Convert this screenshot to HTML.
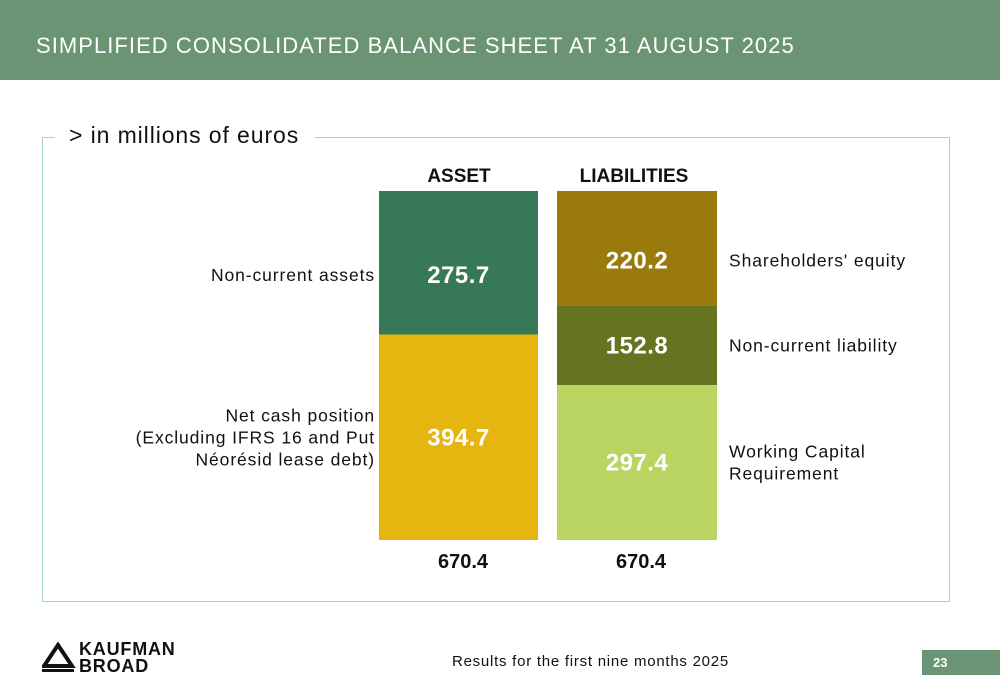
<!DOCTYPE html>
<html><head><meta charset="utf-8"><style>
body{margin:0;width:1000px;height:685px;background:#fff;position:relative;font-family:"Liberation Sans",sans-serif;overflow:hidden}
.a{position:absolute}
</style></head><body>
<div class="a" style="left:0;top:0;width:1000px;height:80px;background:#6a9474"></div>
<div class="a" style="left:36px;top:33px;color:#fff;font-size:22px;letter-spacing:1.05px">SIMPLIFIED CONSOLIDATED BALANCE SHEET AT 31 AUGUST 2025</div>
<div class="a" style="left:42px;top:137px;width:906px;height:463px;border:1px solid #a8d2d0"></div>
<div class="a" style="left:55px;top:122px;background:#fff;padding:0 16px 0 14px;font-size:23px;letter-spacing:0.9px;color:#111">&gt; in millions of euros</div>
<svg class="a" id="chart" style="left:0;top:0" width="1000" height="685"></svg>
<div class="a" style="left:42px;top:642px;width:140px;height:34px">
<svg width="36" height="32" style="position:absolute;left:0;top:0"><polygon points="16,3 30,24 2,24" fill="none" stroke="#111" stroke-width="4"/><rect x="0" y="27" width="32" height="3" fill="#111"/></svg>
<div style="position:absolute;left:37px;top:-1px;font-weight:bold;font-size:18px;line-height:17px;letter-spacing:0.8px;color:#111">KAUFMAN<br>BROAD</div></div>
<div class="a" style="left:452px;top:653px;font-size:15px;letter-spacing:0.75px;color:#111">Results for the first nine months 2025</div>
<div class="a" style="left:922px;top:650px;width:78px;height:25px;background:#6a9474;color:#fff;font-weight:bold;font-size:13px;line-height:25px;padding-left:11px;box-sizing:border-box">23</div>
<script>
const columns=["ASSET","LIABILITIES"];
const assetValues=[275.7,394.7];
const assetLabels=["Non-current assets","Net cash position\n(Excluding IFRS 16 and Put\nNéorésid lease debt)"];
const liabValues=[220.2,152.8,297.4];
const liabLabels=["Shareholders' equity","Non-current liability","Working Capital\nRequirement"];
const totals=[670.4,670.4];
const assetColors=["#377856","#e6b610"];
const liabColors=["#9b7a0c","#647420","#bad462"];
const NS="http://www.w3.org/2000/svg",svg=document.getElementById('chart');
const top0=191,bot0=540,maxT=Math.max(...totals);
const y=v=>top0+(v/maxT)*(bot0-top0);
function mk(t,a){const e=document.createElementNS(NS,t);for(const k in a)e.setAttribute(k,a[k]);svg.appendChild(e);return e;}
function txt(x,yy,s,anchor,size,bold,fill,ls){const lines=s.split("\n");const e=mk("text",{x:x,y:yy-(lines.length-1)*11,"text-anchor":anchor,"font-size":size,"font-weight":bold?"bold":"normal",fill:fill,"letter-spacing":ls||0,"font-family":"Liberation Sans, sans-serif"});lines.forEach((l,i)=>{const t=document.createElementNS(NS,"tspan");t.setAttribute("x",x);t.setAttribute("dy",i?22:0);t.textContent=l;e.appendChild(t);});return e;}
function stack(x0,w,vals,cols,labs,side,col){let c=0;vals.forEach((v,i)=>{const ya=y(c),yb=y(c+v);c+=v;
 const r=mk("rect",{x:x0,y:ya,width:w,height:yb-ya,fill:cols[i]});
 
 
 let m=(ya+yb)/2;
 if(i===0) m+=12;
 const vt=txt(x0+w/2,m+8,v.toFixed(1),"middle",24,true,"#fff",0.5);
 
 
 const lt=side<0?txt(x0-4,m+6,labs[i],"end",17.5,false,"#111",0.9):txt(x0+w+12,m+6,labs[i],"start",17.5,false,"#111",0.9);
 
 
});}
stack(379,159,assetValues,assetColors,assetLabels,-1,'asset');
stack(557,160,liabValues,liabColors,liabLabels,1,'liability');
[[459,columns[0]],[637,columns[1]]].forEach((p,i)=>{
 const h=txt(p[0]-(i?3:0),182,p[1],"middle",19,true,"#111");
 
 
 const t=txt(p[0]+4,568,totals[i].toFixed(1),"middle",20,true,"#111");
 
 
});
</script>
</body></html>
